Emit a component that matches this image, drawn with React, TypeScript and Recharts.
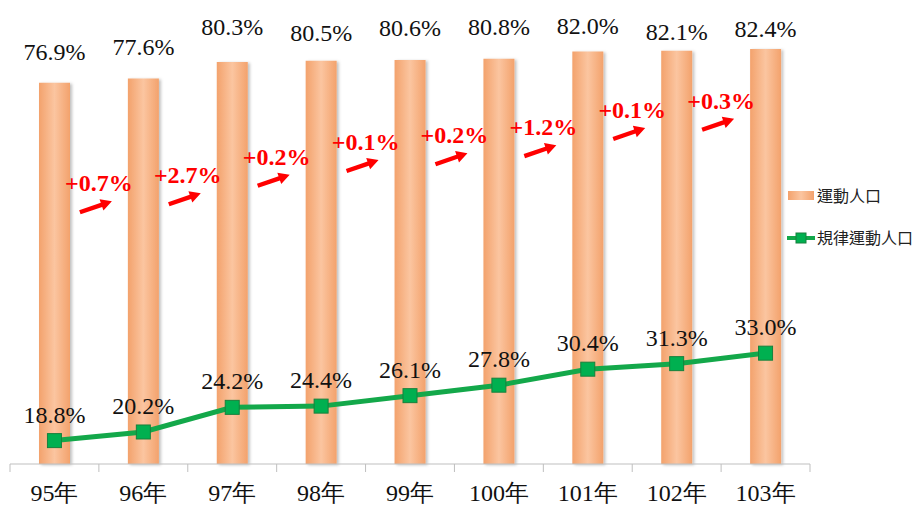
import React from 'react';
import { ComposedChart, Bar, Line, XAxis, YAxis } from 'recharts';

const years = ['95年', '96年', '97年', '98年', '99年', '100年', '101年', '102年', '103年'];
const sportPop = [76.9, 77.6, 80.3, 80.5, 80.6, 80.8, 82.0, 82.1, 82.4];
const regularPop = [18.8, 20.2, 24.2, 24.4, 26.1, 27.8, 30.4, 31.3, 33.0];
const growthText = ['+0.7%', '+2.7%', '+0.2%', '+0.1%', '+0.2%', '+1.2%', '+0.1%', '+0.3%'];
// where each growth note sits, on the % scale
const growthLevel = [60.6, 61.9, 64.9, 67.3, 68.4, 69.7, 72.5, 74.0];
// bar labels were hand placed in the original, px above the bar top
const barLabelLift = [23, 24, 27, 20, 24, 24, 17, 11, 12];

const W = 916;
const H = 506;
const margin = { top: 33, right: 106, bottom: 0, left: 10 };
const halfBand = (W - margin.left - margin.right) / years.length / 2;
const serif = "'Liberation Serif', 'Times New Roman', serif";
const cjk = "'Noto Sans CJK TC', 'Noto Sans', sans-serif";

const data = years.map((year, i) => ({
  year,
  sport: sportPop[i],
  regular: regularPop[i],
  note: growthText[i],
  level: growthLevel[i] ?? null,
}));

const pct = (v: number) => `${v.toFixed(1)}%`;

function ValueLabel(offset: number | number[]) {
  return (props: any) => {
    const { x, y, width = 0, value, index } = props;
    if (value == null) return null;
    const off = Array.isArray(offset) ? offset[index] : offset;
    return (
      <text key={`v${index}`} x={x + width / 2} y={y - off} textAnchor="middle" fill="#111" fontSize={24} style={{ fontFamily: serif }}>
        {pct(value)}
      </text>
    );
  };
}

function GrowthNote(props: any) {
  const { cx, cy, payload, index } = props;
  if (cy == null || payload.level == null) return <g key={`n${index}`} />;
  const mx = cx + halfBand;
  const tx = mx - 19, ty = cy + 29;
  const hx = mx + 13, hy = cy + 18;
  const ang = Math.atan2(hy - ty, hx - tx);
  const ux = Math.cos(ang), uy = Math.sin(ang);
  const nx = -uy, ny = ux;
  const headLen = 11, headW = 6, shaft = 2.2;
  const bx = hx - ux * headLen, by = hy - uy * headLen;
  const pts = [
    [tx + nx * shaft, ty + ny * shaft],
    [bx + nx * shaft, by + ny * shaft],
    [bx + nx * headW, by + ny * headW],
    [hx, hy],
    [bx - nx * headW, by - ny * headW],
    [bx - nx * shaft, by - ny * shaft],
    [tx - nx * shaft, ty - ny * shaft],
  ].map(p => p.join(',')).join(' ');
  return (
    <g key={`n${index}`}>
      <text x={mx} y={cy + 8} textAnchor="middle" fill="#ff0000" fontSize={24} fontWeight="bold" style={{ fontFamily: serif }}>
        {payload.note}
      </text>
      <polygon points={pts} fill="#ff0000" />
    </g>
  );
}

function YearTick(props: any) {
  const { x, y, payload, index } = props;
  return (
    <g>
      <line x1={x - halfBand} y1={y} x2={x - halfBand} y2={y + 8} stroke="#bfbfbf" />
      {index === years.length - 1 && (
        <line x1={x + halfBand} y1={y} x2={x + halfBand} y2={y + 8} stroke="#bfbfbf" />
      )}
      <text x={x} y={y + 37} textAnchor="middle" fill="#111" fontSize={24} style={{ fontFamily: serif }}>
        {payload.value}
      </text>
    </g>
  );
}

function LegendBox() {
  return (
    <svg width={130} height={70} style={{ position: 'absolute', left: 785, top: 187, overflow: 'visible' }}>
      <rect x={3} y={4} width={26} height={9} fill="url(#barGrad)" />
      <text x={32} y={15} fontSize={16} style={{ fontFamily: cjk }} fill="#222">運動人口</text>
      <line x1={2} y1={51} x2={30} y2={51} stroke="#13a84a" strokeWidth={4} />
      <rect x={11} y={46} width={10} height={10} fill="#00b050" stroke="#17803c" />
      <text x={32} y={57} fontSize={16} style={{ fontFamily: cjk }} fill="#222">規律運動人口</text>
    </svg>
  );
}

export default function App() {
  return (
    <div style={{ position: 'absolute', left: 0, top: 0, width: W, height: H, background: '#fff', fontFamily: serif }}>
      <ComposedChart width={W} height={H} data={data} margin={margin}>
        <defs>
          <linearGradient id="barGrad" x1="0" y1="0" x2="1" y2="0">
            <stop offset="0%" stopColor="#f3a26c" />
            <stop offset="50%" stopColor="#fbc5a0" />
            <stop offset="100%" stopColor="#f3a26c" />
          </linearGradient>
          <filter id="barShadow" x="-20%" y="-5%" width="150%" height="115%">
            <feDropShadow dx="2" dy="1" stdDeviation="1.5" floodColor="#000" floodOpacity="0.25" />
          </filter>
        </defs>
        <XAxis
          dataKey="year"
          height={42}
          interval={0}
          tickSize={0}
          tickMargin={0}
          tickLine={false}
          axisLine={{ stroke: '#bfbfbf' }}
          tick={<YearTick />}
        />
        <YAxis hide domain={[15, 85]} />
        <Bar
          dataKey="sport"
          name="運動人口"
          barSize={31}
          fill="url(#barGrad)"
          filter="url(#barShadow)"
          isAnimationActive={false}
          label={ValueLabel(barLabelLift)}
        />
        <Line
          dataKey="regular"
          name="規律運動人口"
          stroke="#13a84a"
          strokeWidth={5}
          isAnimationActive={false}
          dot={(p: any) => (
            <rect key={`d${p.index}`} x={p.cx - 7} y={p.cy - 7} width={14} height={14} fill="#00b050" stroke="#17803c" strokeWidth={1} />
          )}
          activeDot={false}
          label={ValueLabel(18)}
        />
        <Line
          dataKey="level"
          stroke="none"
          legendType="none"
          isAnimationActive={false}
          dot={GrowthNote}
          activeDot={false}
        />
      </ComposedChart>
      <LegendBox />
    </div>
  );
}
